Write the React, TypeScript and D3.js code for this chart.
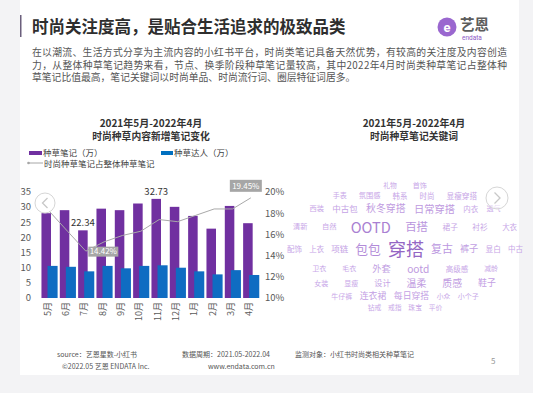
import React from "react";
import * as d3 from "d3";

// bar chart data
const months = ["5月", "6月", "7月", "8月", "9月", "10月", "11月", "12月", "1月", "2月", "3月", "4月"];
const notes = [28.0, 29.0, 22.34, 29.5, 29.0, 31.2, 32.73, 30.1, 27.1, 22.9, 30.4, 24.7];
const creators = [10.6, 10.3, 8.8, 10.6, 9.8, 10.6, 10.8, 10.0, 8.8, 7.8, 9.2, 7.6];
const share = [0.182, 0.163, 0.1442, 0.153, 0.159, 0.163, 0.174, 0.172, 0.178, 0.184, 0.184, 0.1945];
const leftTicks = [0, 5, 10, 15, 20, 25, 30, 35];
const rightTicks = [0.1, 0.12, 0.14, 0.16, 0.18, 0.2];

// word cloud data
const keywords = [
  "穿搭", "OOTD", "包包", "百搭", "复古", "ootd", "日常穿搭", "秋冬穿搭", "温柔", "质感",
  "外套", "裤子", "鞋子", "连衣裙", "每日穿搭", "中古包", "项链", "设计", "显瘦穿搭", "裙子",
  "衬衫", "大衣", "显白", "中古", "上衣", "配饰", "自然", "清新", "西装", "内衣", "透气",
  "韩系", "时尚", "手表", "氛围感", "礼物", "首饰", "卫衣", "毛衣", "高级感", "减龄",
  "女装", "显瘦", "牛仔裤", "小众", "小个子", "钻戒", "戒指", "珠宝", "平价",
];
const keywordWeights = [
  100, 66, 50, 40, 36, 32, 32, 30, 30, 30,
  26, 26, 24, 24, 24, 22, 22, 20, 18, 18,
  18, 17, 18, 17, 17, 17, 16, 16, 16, 17, 15,
  17, 17, 15, 16, 14, 15, 15, 15, 17, 14,
  15, 15, 15, 14, 15, 14, 14, 14, 14,
];
const keywordRows = [
  ["礼物", "首饰"],
  ["手表", "氛围感", "韩系", "时尚", "显瘦穿搭"],
  ["西装", "中古包", "秋冬穿搭", "日常穿搭", "内衣", "透气"],
  ["清新", "自然", "OOTD", "百搭", "裙子", "衬衫", "大衣"],
  ["配饰", "上衣", "项链", "包包", "穿搭", "复古", "裤子", "显白", "中古"],
  ["卫衣", "毛衣", "外套", "ootd", "高级感", "减龄"],
  ["女装", "显瘦", "设计", "温柔", "质感", "鞋子"],
  ["牛仔裤", "连衣裙", "每日穿搭", "小众", "小个子"],
  ["钻戒", "戒指", "珠宝", "平价"],
];

const bodyLines = [
  "在以潮流、生活方式分享为主流内容的小红书平台，时尚类笔记具备天然优势，有较高的关注度及内容创造",
  "力，从整体种草笔记趋势来看，节点、换季阶段种草笔记量较高，其中2022年4月时尚类种草笔记占整体种",
  "草笔记比值最高，笔记关键词以时尚单品、时尚流行词、圈层特征词居多。",
];

const FONT = '"Noto Sans CJK SC", "Noto Sans", sans-serif';

// rough text width for layout
const textWidth = (s: string, fs: number) =>
  Array.from(s).reduce((w, c) => {
    if (/[A-Z]/.test(c)) return w + fs * 0.68;
    if (/[a-z0-9]/.test(c)) return w + fs * 0.56;
    return w + fs;
  }, 0);

export default function App() {
  const W = 533;
  const H = 393;
  const plot = { left: 40, right: 260, top: 192, bottom: 298 };

  const x = d3.scaleBand<string>().domain(months).range([plot.left, plot.right]).padding(0);
  const bw = x.bandwidth();
  const yL = d3.scaleLinear().domain([0, 35]).range([plot.bottom, plot.top]);
  const yR = d3.scaleLinear().domain([0.1, 0.2]).range([plot.bottom, plot.top]);
  const cx = (i: number) => (x(months[i]) as number) + bw / 2;
  const pct = d3.format(".0%");
  const pct2 = d3.format(".2%");

  const line = d3
    .line<number>()
    .x((d, i) => cx(i))
    .y((d) => yR(d));

  const maxNote = d3.maxIndex(notes);
  const minNote = d3.minIndex(notes);
  const maxShare = d3.maxIndex(share);
  const minShare = d3.minIndex(share);

  // word cloud layout: rows stacked inside an ellipse
  const cloud = { cx: 405, cy: 246, rx: 118, ry: 64 };
  const weightOf = (w: string) => keywordWeights[keywords.indexOf(w)];
  const size = d3.scaleSqrt().domain([14, 100]).range([6.8, 18]);
  const color = d3
    .scaleLinear<string>()
    .domain([14, 100])
    .range(["#c9a8e8", "#9466c4"]);
  const rowH = keywordRows.map((row) => d3.max(row, (w) => size(weightOf(w))) as number);
  // gap after each row grows with the larger neighbour
  const gaps = rowH.slice(0, -1).map((h, i) => 1.5 + 0.25 * Math.max(h, rowH[i + 1]));
  const totalH = d3.sum(rowH) + d3.sum(gaps);
  let top = cloud.cy - totalH / 2;
  const cloudWords: { text: string; x: number; y: number; fs: number; fill: string }[] = [];
  keywordRows.forEach((row, ri) => {
    const y = top + rowH[ri] / 2;
    top += rowH[ri] + (gaps[ri] || 0);
    const t = (y - cloud.cy) / cloud.ry;
    const avail = 2 * cloud.rx * Math.sqrt(Math.max(0.1, 1 - t * t));
    const widths = row.map((w) => textWidth(w, size(weightOf(w))));
    const sum = d3.sum(widths);
    const gap = row.length > 1 ? Math.max(3, Math.min((avail - sum) / (row.length - 1), 16)) : 0;
    let cur = cloud.cx - (sum + gap * (row.length - 1)) / 2;
    row.forEach((w, k) => {
      const fs = size(weightOf(w));
      cloudWords.push({ text: w, x: cur + widths[k] / 2, y, fs, fill: color(weightOf(w)) });
      cur += widths[k] + gap;
    });
  });

  return (
    <div style={{ position: "absolute", left: 0, top: 0 }}>
      <svg width={W} height={H} style={{ display: "block", fontFamily: FONT }}>
        <rect width={W} height={H} fill="#f3f3f5" />
        <rect x={20} y={0} width={499} height={375} fill="#ffffff" />

        {/* header */}
        <rect x={20} y={15} width={1.5} height={22} fill="#6b5f7c" />
        <text x={32} y={33} fontSize={16.5} fontWeight="bold" fill="#2e2e2e">
          时尚关注度高，是贴合生活追求的极致品类
        </text>
        <circle cx={447} cy={27} r={9.5} fill="#9a67cf" />
        <text x={447} y={31.5} fontSize={13} fontWeight="bold" fill="#fff" textAnchor="middle" fontFamily="Roboto, sans-serif">
          e
        </text>
        <text x={460} y={30} fontSize={14.5} fontWeight="bold" fill="#5c5c5c">
          艺恩
        </text>
        <text x={462} y={40} fontSize={6.5} fill="#8e5bc7" fontFamily="Roboto, sans-serif">
          endata
        </text>

        {bodyLines.map((t, i) => (
          <text
            key={i}
            x={32}
            y={56 + i * 12.5}
            fontSize={9.8}
            fill="#555"
            {...(i < 2 ? { textLength: 475, lengthAdjust: "spacing" } : {})}
          >
            {t}
          </text>
        ))}

        {/* left chart titles */}
        <text x={151} y={127} fontSize={10} fontWeight="bold" fill="#333" textAnchor="middle">
          2021年5月-2022年4月
        </text>
        <text x={151} y={140} fontSize={9.8} fontWeight="bold" fill="#333" textAnchor="middle">
          时尚种草内容新增笔记变化
        </text>

        {/* legend */}
        <rect x={29} y={151} width={13} height={4} fill="#7030a0" />
        <text x={43} y={155.5} fontSize={8.5} fill="#404040">种草笔记（万）</text>
        <rect x={161} y={151} width={12} height={4} fill="#0070c0" />
        <text x={174} y={155.5} fontSize={8.5} fill="#404040">种草达人（万）</text>
        <line x1={28} x2={43} y1={163} y2={163} stroke="#a6a6a6" strokeWidth={1} />
        <circle cx={28.5} cy={163} r={1.3} fill="#a6a6a6" />
        <text x={44} y={166.5} fontSize={8.5} fill="#404040">时尚种草笔记占整体种草笔记</text>

        {/* axes labels */}
        {leftTicks.map((t) => (
          <text key={t} x={31} y={yL(t) + 3.3} fontSize={9.5} fill="#595959" textAnchor="end">
            {t}
          </text>
        ))}
        {rightTicks.map((t) => (
          <text key={t} x={265} y={yR(t) + 3.3} fontSize={9.5} fill="#595959">
            {pct(t)}
          </text>
        ))}
        {months.map((m, i) => (
          <text
            key={m}
            transform={`translate(${cx(i) - 1},302) rotate(-90)`}
            fontSize={9}
            fill="#595959"
            textAnchor="end"
            dominantBaseline="middle"
          >
            {m}
          </text>
        ))}

        {/* bars */}
        {notes.map((v, i) => (
          <rect
            key={"n" + i}
            x={(x(months[i]) as number) + bw * 0.08}
            y={yL(v)}
            width={bw * 0.52}
            height={yL(0) - yL(v)}
            fill="#7030a0"
          />
        ))}
        {creators.map((v, i) => (
          <rect
            key={"c" + i}
            x={(x(months[i]) as number) + bw * 0.41}
            y={yL(v)}
            width={bw * 0.55}
            height={yL(0) - yL(v)}
            fill="#0f6cc2"
          />
        ))}

        {/* share line */}
        <path d={line(share) || ""} fill="none" stroke="#a9a9a9" strokeWidth={1} />

        {/* data labels */}
        {[minNote, maxNote].map((i) => (
          <text
            key={"nl" + i}
            x={(x(months[i]) as number) + bw * 0.34}
            y={yL(notes[i]) - 4}
            fontSize={9.5}
            fill="#333"
            textAnchor="middle"
          >
            {notes[i]}
          </text>
        ))}
        <rect x={cx(minShare) + 2.5} y={yR(share[minShare]) - 4.5} width={30} height={10} fill="#a6a6a6" />
        <text x={cx(minShare) + 17.5} y={yR(share[minShare]) + 3} fontSize={8} fill="#fff" textAnchor="middle">
          {pct2(share[minShare])}
        </text>
        <rect x={cx(maxShare) - 21} y={yR(share[maxShare]) - 18} width={32} height={12} fill="#a6a6a6" />
        <text x={cx(maxShare) - 5} y={yR(share[maxShare]) - 9} fontSize={8} fill="#fff" textAnchor="middle">
          {pct2(share[maxShare])}
        </text>

        {/* right title */}
        <text x={414} y={127} fontSize={10} fontWeight="bold" fill="#333" textAnchor="middle">
          2021年5月-2022年4月
        </text>
        <text x={414} y={140} fontSize={9.8} fontWeight="bold" fill="#333" textAnchor="middle">
          时尚种草笔记关键词
        </text>

        {/* word cloud */}
        {cloudWords.map((w) => (
          <text
            key={w.text}
            x={w.x}
            y={w.y}
            fontSize={w.fs}
            fill={w.fill}
            textAnchor="middle"
            dominantBaseline="central"
          >
            {w.text}
          </text>
        ))}

        {/* carousel arrows */}
        <circle cx={45} cy={203} r={10} fill="#ffffff" fillOpacity={0.55} stroke="#d6d6d6" />
        <path d="M47.5,198 L42.5,203 L47.5,208" fill="none" stroke="#c8c8c8" strokeWidth={1.3} />
        <circle cx={497} cy={198} r={11} fill="#ffffff" fillOpacity={0.6} stroke="#d6d6d6" />
        <path d="M494.5,192.5 L500,198 L494.5,203.5" fill="none" stroke="#c8c8c8" strokeWidth={1.3} />

        {/* footer */}
        <text x={57} y={357} fontSize={7} fill="#555">source：艺恩星数-小红书</text>
        <text x={62} y={369} fontSize={7} fill="#555">©2022.05 艺恩 ENDATA Inc.</text>
        <text x={182} y={357} fontSize={7} fill="#555">数据周期：2021.05-2022.04</text>
        <text x={208} y={369} fontSize={7} fill="#555">www.endata.com.cn</text>
        <text x={295} y={357} fontSize={7} fill="#555">监测对象：小红书时尚类相关种草笔记</text>
        <text x={491} y={364} fontSize={8} fill="#999">5</text>
      </svg>
    </div>
  );
}
